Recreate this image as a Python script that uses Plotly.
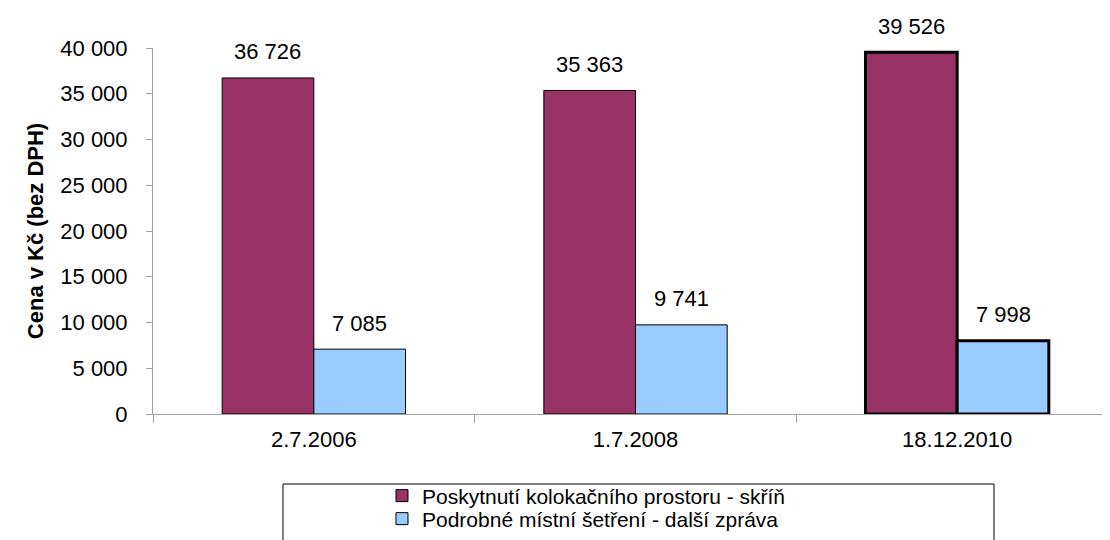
import plotly.graph_objects as go

dates = ['2.7.2006', '1.7.2008', '18.12.2010']
skrin = [36726, 35363, 39526]
zprava = [7085, 9741, 7998]
outline = [1, 1, 3]

font = 'Liberation Sans, Arial, sans-serif'

fig = go.Figure()
fig.add_trace(go.Bar(
    x=dates, y=skrin, name='Poskytnutí kolokačního prostoru - skříň',
    marker=dict(color='#993366', line=dict(color='black', width=outline)),
    legend='legend'))
fig.add_trace(go.Bar(
    x=dates, y=zprava, name='Podrobné místní šetření - další zpráva',
    marker=dict(color='#99CCFF', line=dict(color='black', width=outline)),
    legend='legend2'))

# value labels above the bars (bar half-width ~46 px)
def fmt(v):
    return f'{v:,}'.replace(',', ' ')

for d, a, b in zip(dates, skrin, zprava):
    fig.add_annotation(x=d, y=a, text=fmt(a), xshift=-46, yshift=26,
                       showarrow=False, yanchor='middle', font=dict(size=22))
    fig.add_annotation(x=d, y=b, text=fmt(b), xshift=46, yshift=26,
                       showarrow=False, yanchor='middle', font=dict(size=22))

# legend frame is wider than plotly's own box
fig.add_shape(type='rect', xref='paper', yref='paper',
              x0=0.1347, x1=0.8715, y0=-0.1913, y1=-0.45,
              line=dict(color='black', width=1))

leg = dict(xanchor='left', yanchor='middle', font=dict(size=21, color='black'),
           bgcolor='rgba(0,0,0,0)', borderwidth=0)

fig.update_layout(
    width=1110, height=540,
    margin=dict(l=145, r=0, t=40, b=134, autoexpand=False),
    paper_bgcolor='white', plot_bgcolor='white',
    font=dict(family=font, size=22, color='black'),
    separators=', ',
    barmode='group', bargap=0.43, bargroupgap=0,
    showlegend=True,
    legend=dict(leg, x=0.2373, y=-0.2240),
    legend2=dict(leg, x=0.2373, y=-0.2869),
    xaxis=dict(range=[-0.5, 2.5], showline=True, linecolor='#a0a0a0', linewidth=1,
               ticks='outside', tickson='boundaries', ticklen=8, tickcolor='#a0a0a0',
               showgrid=False, tickfont=dict(size=22), automargin=False,
               ticklabelstandoff=6),
    yaxis=dict(range=[0, 40000], dtick=5000, tickformat=',d', showline=True,
               linecolor='#a0a0a0', linewidth=1, ticks='outside', ticklen=6,
               tickcolor='#a0a0a0', showgrid=False, zeroline=False,
               tickfont=dict(size=22), automargin=False, ticklabelstandoff=14,
               title=dict(text='<b>Cena v Kč (bez DPH)</b>', font=dict(size=22), standoff=10)),
)

fig.write_html('out.html')
